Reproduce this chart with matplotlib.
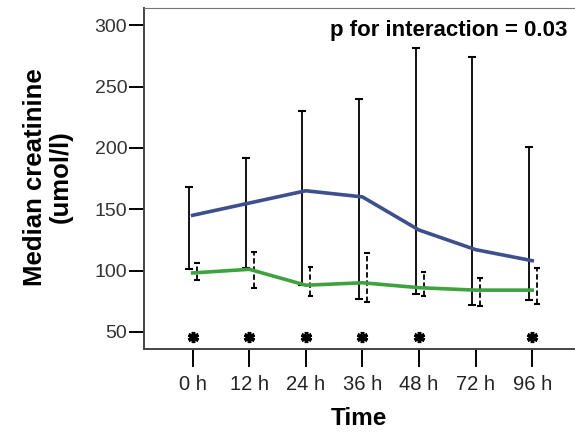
import matplotlib
matplotlib.use("agg")
import matplotlib.pyplot as plt
import numpy as np

plt.rcParams['font.family'] = ['Liberation Sans', 'DejaVu Sans']

times = ["0 h", "12 h", "24 h", "36 h", "48 h", "72 h", "96 h"]
# blue group: median, upper and lower whisker
blue_med = [145, 155, 165, 160, 133, 117, 108]
blue_hi = [168, 192, 230, 240, 281, 274, 201]
blue_lo = [101, 102, 88, 77, 81, 72, 76]
# green group
green_med = [98, 101, 88, 90, 86, 84, 84]
green_hi = [106, 115, 103, 114, 99, 94, 102]
green_lo = [92, 86, 79, 74, 79, 71, 73]
# significance marks
star_times = ["0 h", "12 h", "24 h", "36 h", "48 h", "96 h"]
star_level = 46

x = np.arange(len(times))
blue_c = "#3d4f8c"
green_c = "#3ea33e"

fig = plt.figure(figsize=(5.75, 4.32), dpi=100)
ax = fig.add_axes([0.2504, 0.1921, 0.748, 0.7894])

# error bars
bx = x - 0.06
ax.vlines(bx, blue_lo, blue_hi, color="black", lw=1.3, zorder=2)
ax.hlines(blue_hi, bx - 0.07, bx + 0.07, color="black", lw=1.5, zorder=2)
ax.hlines(blue_lo, bx - 0.07, bx + 0.07, color="black", lw=1.5, zorder=2)

gx = x + 0.08
ax.vlines(gx, green_lo, green_hi, color="black", lw=1.3, linestyles=(0, (3, 1.5)), zorder=2)
ax.hlines(green_hi, gx - 0.05, gx + 0.05, color="black", lw=1.5, zorder=2)
ax.hlines(green_lo, gx - 0.05, gx + 0.05, color="black", lw=1.5, zorder=2)

ax.plot(x, blue_med, color=blue_c, lw=2.6, zorder=3)
ax.plot(x, green_med, color=green_c, lw=2.6, zorder=3)

sx = [times.index(t) for t in star_times]
ax.plot(sx, [star_level] * len(sx), ls="none", marker=(6, 2, 0), ms=8,
        mew=2.5, color="black", zorder=4)

ax.set_xlim(-0.86, 6.74)
ax.set_ylim(36, 314)
ax.set_xticks(x)
ax.set_xticklabels(times, fontsize=14.5, color="#222222")
ax.set_yticks([50, 100, 150, 200, 250, 300])
ax.tick_params(axis="y", length=11, width=1.4, pad=1, labelsize=14, labelcolor="#333333")
ax.tick_params(axis="x", length=13, width=1.4, pad=6)

ax.spines["right"].set_visible(False)
ax.spines["top"].set_color("#777777")
for s in ["left", "bottom"]:
    ax.spines[s].set_linewidth(1.4)
    ax.spines[s].set_color("#444444")

ax.set_xlabel("Time", fontsize=17.5, fontweight="bold", labelpad=9)
fig.text(0.083, 0.59, "Median creatinine\n(umol/l)", rotation=90, ha="center",
         va="center", fontsize=18.5, fontweight="bold", linespacing=1.1)

ax.text(0.985, 0.965, "p for interaction = 0.03", transform=ax.transAxes,
        ha="right", va="top", fontsize=16, fontweight="bold")

fig.savefig("out.png", dpi=100)
